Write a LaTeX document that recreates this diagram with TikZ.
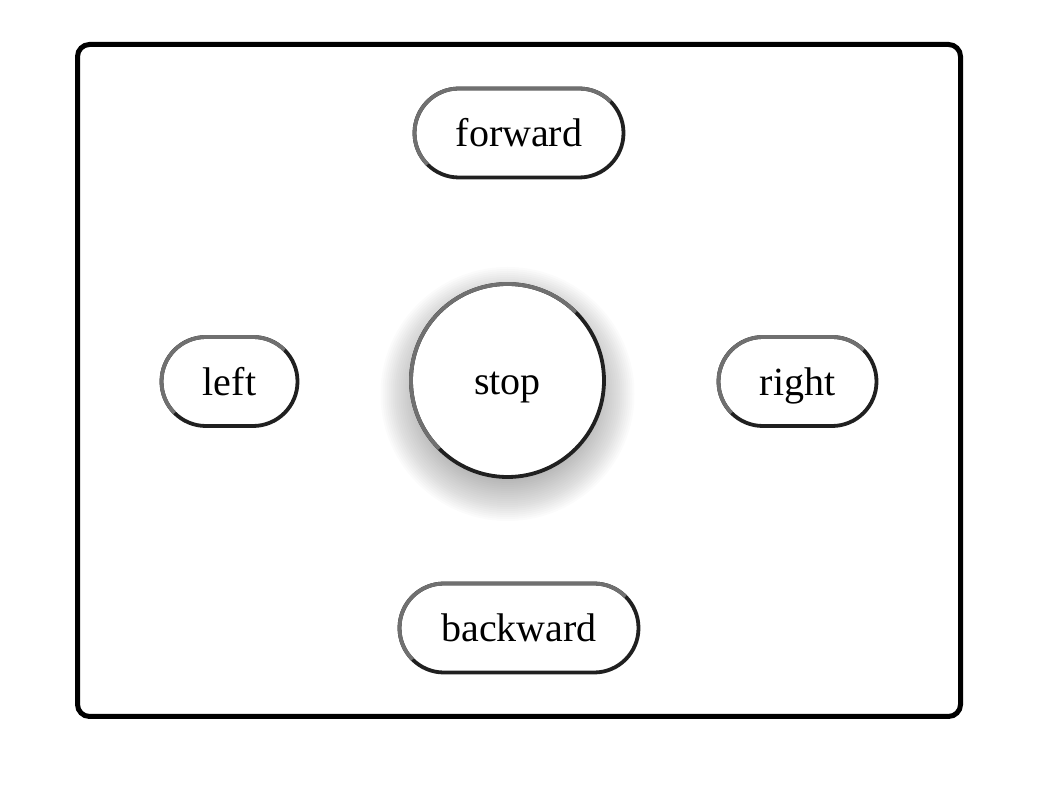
\documentclass[tikz,border=0pt]{standalone}
\usepackage{fontspec}
\setmainfont{Liberation Serif}
\usetikzlibrary{calc}
\definecolor{lite}{HTML}{707070}
\definecolor{dark}{HTML}{202020}
\tikzset{
  txt/.style={font=\fontsize{40}{40}\selectfont, text height=37.4pt, text depth=10pt},
  pill/.style={draw=dark, line width=3.8pt, fill=white, rectangle, rounded corners=44.4pt,
    minimum height=89pt, inner sep=0pt, outer sep=0pt, txt},
  disc/.style={draw=dark, line width=3.8pt, fill=white, circle, minimum size=193pt,
    inner sep=0pt, outer sep=0pt, txt},
  litepen/.style={draw=lite, line width=3.8pt},
  frame/.style={draw=black, line width=5pt, rounded corners=12pt}
}
\newcommand{\pilltop}[1]{%
  \draw[litepen] ($(#1.west)+(13.03pt,-31.47pt)$) arc[start angle=225, end angle=180, radius=44.5pt]
    -- ($(#1.west)+(0,0)$) arc[start angle=180, end angle=90, radius=44.5pt]
    -- ($(#1.north east)+(-44.5pt,0)$) arc[start angle=90, end angle=45, radius=44.5pt];}
\begin{document}
\begin{tikzpicture}[x=1pt,y=1pt]
\useasboundingbox (0,0) rectangle (1061,793);
\node[frame, minimum width=883pt, minimum height=672pt, inner sep=0pt] (box) at (519,412.5) {};
% shadow
\foreach \r in {127,125,...,65}{
  \fill[black, opacity=0.016] (507.5,399) circle[radius=\r];
}
\node[disc] (stop) at (507.5,412.5) {stop};
\draw[litepen] (stop.225) arc[start angle=225, end angle=45, radius=96.5pt];
\node[pill, minimum width=209pt] (forward) at (519,660) {forward};
\pilltop{forward}
\node[pill, minimum width=136pt] (left) at (229.5,411.5) {left};
\pilltop{left}
\node[pill, minimum width=158pt] (right) at (797.5,411.5) {right};
\pilltop{right}
\node[pill, minimum width=239pt] (backward) at (519,165) {backward};
\pilltop{backward}
\end{tikzpicture}
\end{document}
